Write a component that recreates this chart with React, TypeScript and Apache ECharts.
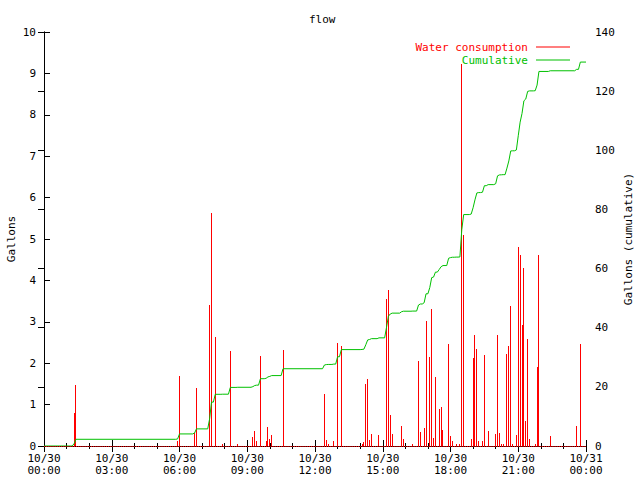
import React, { useEffect, useRef } from "react";
import * as echarts from "echarts";

// Minutes after 10/30 00:00 (5-minute samples) and water used in each sample (gallons)
const sampleMinutes = [
  80, 85, 355, 360, 400, 405, 440, 445, 455, 475, 495, 515, 555, 560, 565, 575,
  590, 595, 600, 605, 635, 745, 750, 755, 770, 780, 790, 845, 850, 855, 860, 865,
  870, 890, 910, 915, 920, 925, 950, 955, 980, 995, 1000, 1010, 1015, 1025, 1030,
  1035, 1040, 1050, 1055, 1060, 1075, 1080, 1085, 1095, 1105, 1110, 1115, 1135,
  1140, 1145, 1150, 1155, 1165, 1170, 1180, 1200, 1205, 1210, 1215, 1220, 1230,
  1235, 1240, 1245, 1255, 1260, 1265, 1270, 1275, 1280, 1285, 1290, 1305, 1310,
  1315, 1345, 1415, 1425,
];
const sampleGallons = [
  0.8, 1.47, 0.12, 1.69, 0.31, 1.4, 3.41, 5.64, 2.64, 0.04, 2.29, 0.05, 0.22, 0.37, 0.13, 2.18,
  0.13, 0.47, 0.18, 0.27, 2.32, 1.26, 0.14, 0.05, 0.12, 2.48, 2.42, 0.05, 0.1, 1.5, 1.62, 0.14,
  0.29, 0.27, 3.55, 3.77, 0.75, 0.29, 0.48, 0.17, 0.05, 2.05, 0.34, 0.43, 3.02, 2.15, 3.31,
  0.2, 1.67, 0.89, 0.94, 0.39, 2.46, 0.23, 0.12, 0.05, 0.05, 9.23, 5.1, 0.17,
  2.13, 2.68, 2.34, 0.12, 0.12, 2.2, 0.37, 0.29, 2.68, 0.31, 0.04, 0.05, 2.22,
  2.42, 3.38, 0.05, 0.27, 4.81, 4.61, 2.92, 4.3, 0.6, 2.58, 0.17, 0.05, 1.91,
  4.61, 0.23, 0.48, 2.46,
];

const xTickLabels = [
  "10/30\n00:00", "10/30\n03:00", "10/30\n06:00", "10/30\n09:00", "10/30\n12:00",
  "10/30\n15:00", "10/30\n18:00", "10/30\n21:00", "10/31\n00:00",
];
const X_MIN = 0;
const X_MAX = 1440;
const X_STEP = 180;
const SAMPLE_STEP = 5;

const FONT = "DejaVu Sans Mono";

export default function App() {
  const ref = useRef<HTMLDivElement>(null);

  useEffect(() => {
    if (!ref.current) return;
    const chart = echarts.init(ref.current, null, { renderer: "svg" });

    const bars = sampleMinutes.map((t, i) => [t, sampleGallons[i]]);

    // cumulative total: running sum of the samples
    const cumulative: number[][] = [[X_MIN, 0]];
    let total = 0;
    let lastT = X_MIN;
    sampleMinutes.forEach((t, i) => {
      if (t - SAMPLE_STEP > lastT) cumulative.push([t - SAMPLE_STEP, total]);
      total += sampleGallons[i];
      cumulative.push([t, total]);
      lastT = t;
    });
    cumulative.push([X_MAX, total]);

    const axisText = { fontFamily: FONT, fontSize: 11, color: "#000" };
    const blackLine = { lineStyle: { color: "#000", width: 1 } };

    chart.setOption({
      animation: false,
      backgroundColor: "#fff",
      title: {
        text: "flow",
        left: 304,
        top: 9,
        textStyle: { fontFamily: FONT, fontSize: 11, fontWeight: "normal", color: "#000" },
      },
      legend: {
        orient: "vertical",
        align: "right",
        right: 65,
        top: 35.5,
        itemWidth: 34,
        itemHeight: 1,
        itemGap: 0,
        icon: "rect",
        selectedMode: false,
        textStyle: { fontFamily: FONT, fontSize: 11, lineHeight: 13, padding: [0, 3, 0, 0] },
        data: [
          { name: "Water consumption", textStyle: { color: "#ff0000" } },
          { name: "Cumulative", textStyle: { color: "#00c000" } },
        ],
      },
      grid: {
        left: 44,
        right: 54,
        top: 32,
        bottom: 34,
        show: false,
        containLabel: false,
        outerBoundsMode: "none",
      },
      xAxis: [
        {
          type: "value",
          min: X_MIN,
          max: X_MAX,
          interval: X_STEP,
          position: "bottom",
          axisLine: blackLine,
          axisTick: { inside: true, length: 6, lineStyle: { color: "#000" } },
          minorTick: { show: true, splitNumber: 3, length: 3, lineStyle: { color: "#000" } },
          splitLine: { show: false },
          axisLabel: {
            ...axisText,
            margin: 6,
            lineHeight: 12.5,
            formatter: (v: number) => xTickLabels[Math.round(v / X_STEP)] ?? "",
          },
        },
        {
          type: "value",
          min: X_MIN,
          max: X_MAX,
          interval: X_STEP,
          position: "top",
          axisLine: blackLine,
          axisTick: { inside: true, length: 6, lineStyle: { color: "#000" } },
          minorTick: { show: true, splitNumber: 3, length: 3, lineStyle: { color: "#000" } },
          splitLine: { show: false },
          axisLabel: { show: false },
        },
      ],
      yAxis: [
        {
          type: "value",
          min: 0,
          max: 10,
          interval: 1,
          position: "left",
          name: "Gallons",
          nameLocation: "middle",
          nameRotate: 90,
          nameGap: 27,
          nameMoveOverlap: false,
          nameTextStyle: axisText,
          axisLine: { show: true, ...blackLine },
          axisTick: { show: true, inside: true, length: 6, lineStyle: { color: "#000" } },
          splitLine: { show: false },
          axisLabel: { ...axisText, margin: 8 },
        },
        {
          type: "value",
          min: 0,
          max: 140,
          interval: 20,
          position: "right",
          name: "Gallons (cumulative)",
          nameLocation: "middle",
          nameRotate: 90,
          nameGap: 37,
          nameMoveOverlap: false,
          nameTextStyle: axisText,
          axisLine: { show: true, ...blackLine },
          axisTick: { show: true, inside: true, length: 6, lineStyle: { color: "#000" } },
          splitLine: { show: false },
          axisLabel: { ...axisText, margin: 9 },
        },
      ],
      series: [
        {
          name: "Water consumption",
          type: "custom",
          xAxisIndex: 0,
          yAxisIndex: 0,
          itemStyle: { color: "#ff0000" },
          encode: { x: 0, y: 1 },
          data: bars,
          z: 2,
          renderItem: (params: any, api: any) => {
            const top = api.coord([api.value(0), api.value(1)]);
            const base = api.coord([api.value(0), 0]);
            return {
              type: "rect",
              shape: {
                x: Math.floor(top[0]),
                y: Math.round(top[1]),
                width: 1,
                height: Math.round(base[1]) - Math.round(top[1]),
              },
              style: { fill: "#ff0000" },
            };
          },
          markLine: {
            silent: true,
            symbol: ["none", "none"],
            label: { show: false },
            lineStyle: { color: "#ff0000", type: [1, 0.88], width: 1 },
            data: [[{ coord: [X_MIN, 0] }, { coord: [X_MAX, 0] }]],
          },
        },
        {
          name: "Cumulative",
          type: "line",
          xAxisIndex: 0,
          yAxisIndex: 1,
          showSymbol: false,
          symbol: "none",
          lineStyle: { color: "#00c000", width: 1 },
          itemStyle: { color: "#00c000" },
          data: cumulative,
          z: 3,
        },
      ],
    });

    return () => chart.dispose();
  }, []);

  return (
    <div
      ref={ref}
      style={{ position: "fixed", left: 0, top: 0, width: 640, height: 480, background: "#fff" }}
    />
  );
}
